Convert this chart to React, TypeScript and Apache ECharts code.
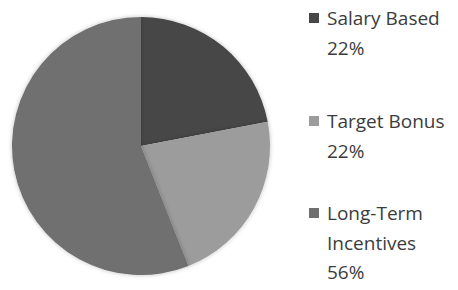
import React, { useEffect, useRef } from "react";
import * as echarts from "echarts";

const categories = ["Salary Based", "Target Bonus", "Long-Term Incentives"];
const legendLines = [["Salary Based"], ["Target Bonus"], ["Long-Term", "Incentives"]];
const values = [22, 22, 56];
const colors = ["#474747", "#9c9c9c", "#6f6f6f"];

// legend layout: centre y of each block's first line, and line spacing
const legendTop = [18, 121, 213];
const lineGap = 29.5;

export default function App() {
  const ref = useRef<HTMLDivElement>(null);
  useEffect(() => {
    if (!ref.current) return;
    const chart = echarts.init(ref.current, undefined, { renderer: "svg" });
    const font = "Open Sans";
    const graphic: any[] = [];
    categories.forEach((c, i) => {
      const y0 = legendTop[i];
      graphic.push({
        type: "rect",
        shape: { x: 309, y: y0 - 5, width: 10, height: 10 },
        style: { fill: colors[i] },
      });
      const lines = [...legendLines[i], `${values[i]}%`];
      lines.forEach((ln, j) => {
        graphic.push({
          type: "text",
          x: 327,
          y: y0 + j * lineGap,
          style: {
            text: ln,
            fill: "#3c3c3c",
            font: `19px "${font}"`,
            verticalAlign: "middle",
            align: "left",
          },
        });
      });
    });
    chart.setOption({
      animation: false,
      backgroundColor: "#ffffff",
      legend: { show: false },
      graphic,
      series: [
        {
          type: "pie",
          center: [141, 146],
          radius: 129,
          startAngle: 90,
          clockwise: true,
          label: { show: false },
          labelLine: { show: false },
          silent: true,
          itemStyle: {
            borderWidth: 0,
            shadowBlur: 4,
            shadowColor: "rgba(0,0,0,0.25)",
          },
          data: categories.map((c, i) => ({
            name: c,
            value: values[i],
            itemStyle: { color: colors[i] },
          })),
        },
      ],
    });
    return () => chart.dispose();
  }, []);
  return (
    <div
      ref={ref}
      style={{ position: "absolute", left: 0, top: 0, width: 458, height: 290 }}
    />
  );
}
